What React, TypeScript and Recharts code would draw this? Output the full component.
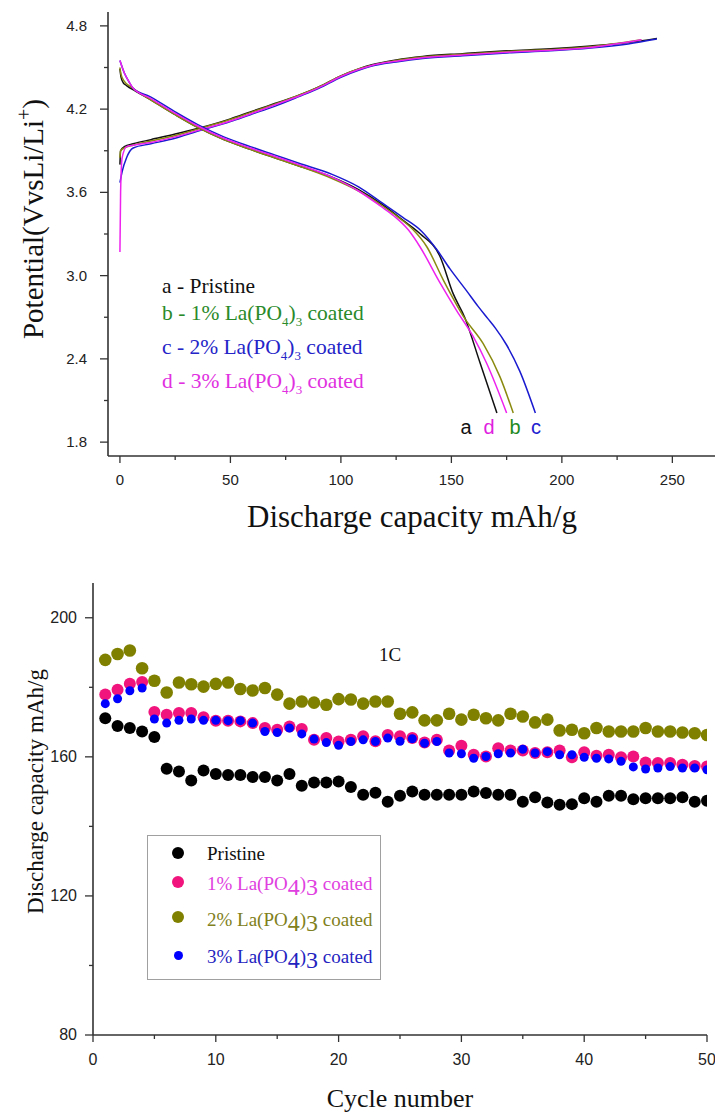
import React from 'react';
import { LineChart, Line, XAxis, YAxis, ScatterChart, Scatter } from 'recharts';

const SERIF = '"Liberation Serif", "Times New Roman", serif';
const SANS = '"Liberation Sans", Arial, sans-serif';
const AXIS = '#333';

// top panel: [capacity mAh/g, potential V]
const chargeA = [[0, 3.8], [0.3, 3.9], [2, 3.93], [6, 3.95], [14, 3.98], [25, 4.02], [35, 4.06], [50, 4.13], [59, 4.18], [70, 4.24], [81, 4.3], [90, 4.36], [100, 4.44], [108, 4.49], [114, 4.52], [125, 4.555], [137, 4.58], [155, 4.6], [175, 4.62], [195, 4.635], [213, 4.655], [230, 4.68], [243, 4.71]];
const chargeB = [[0, 3.85], [0.3, 3.9], [2, 3.92], [6, 3.94], [14, 3.97], [25, 4.01], [35, 4.055], [50, 4.125], [59, 4.175], [70, 4.235], [81, 4.3], [90, 4.36], [100, 4.44], [108, 4.49], [114, 4.515], [125, 4.55], [137, 4.575], [155, 4.595], [175, 4.615], [195, 4.63], [213, 4.65], [236, 4.7]];
const chargeC = [[0, 3.67], [1, 3.75], [3, 3.85], [6, 3.92], [14, 3.95], [25, 3.99], [35, 4.04], [50, 4.11], [59, 4.16], [70, 4.22], [81, 4.29], [90, 4.35], [100, 4.43], [108, 4.48], [114, 4.51], [125, 4.54], [137, 4.565], [155, 4.585], [175, 4.605], [195, 4.62], [213, 4.64], [230, 4.67], [243, 4.705]];
const chargeD = [[0, 3.17], [0.3, 3.6], [1, 3.85], [3, 3.93], [6, 3.94], [14, 3.96], [25, 4.0], [35, 4.045], [50, 4.115], [59, 4.165], [70, 4.23], [81, 4.295], [90, 4.355], [100, 4.435], [108, 4.485], [114, 4.515], [125, 4.545], [137, 4.57], [155, 4.59], [175, 4.61], [195, 4.625], [213, 4.645], [236, 4.7]];

const dischargeA = [[0, 4.49], [0.5, 4.43], [1.5, 4.39], [3, 4.37], [7, 4.33], [13.6, 4.27], [25, 4.16], [35, 4.07], [47, 3.98], [59, 3.91], [70, 3.85], [81, 3.79], [96, 3.71], [108, 3.62], [119, 3.51], [128, 3.4], [136, 3.3], [144.8, 3.14], [150.8, 2.87], [156, 2.7], [163, 2.37], [170.6, 2.01]];
const dischargeB = [[0, 4.5], [0.5, 4.45], [2, 4.4], [5, 4.36], [13.6, 4.27], [25, 4.16], [35, 4.07], [47, 3.98], [59, 3.91], [70, 3.85], [81, 3.79], [96, 3.7], [108, 3.61], [119, 3.5], [126, 3.42], [132.7, 3.33], [138.8, 3.21], [146.3, 2.97], [156.1, 2.69], [164.4, 2.51], [172, 2.27], [178, 2.01]];
const dischargeC = [[0, 4.55], [2, 4.46], [4, 4.4], [6, 4.35], [13.6, 4.29], [25, 4.18], [35, 4.09], [47, 4.0], [59, 3.93], [70, 3.87], [81, 3.81], [96, 3.73], [108, 3.64], [119, 3.52], [128, 3.42], [136.5, 3.32], [143.3, 3.19], [149.3, 3.05], [156.9, 2.89], [162, 2.78], [166.5, 2.69], [170, 2.62], [175, 2.5], [181, 2.31], [188, 2.01]];
const dischargeD = [[0, 4.55], [2, 4.46], [4, 4.4], [6, 4.35], [13.6, 4.28], [25, 4.17], [35, 4.08], [47, 3.99], [59, 3.92], [70, 3.86], [81, 3.8], [96, 3.71], [108, 3.61], [118, 3.5], [124, 3.43], [130.5, 3.33], [135.7, 3.21], [144.8, 2.95], [152.3, 2.75], [159.9, 2.56], [165.9, 2.37], [175, 2.01]];

const capTicks = [0, 25, 50, 75, 100, 125, 150, 175, 200, 225, 250];
const capLabels = [0, 50, 100, 150, 200, 250];
const potTicks = [1.8, 2.1, 2.4, 2.7, 3.0, 3.3, 3.6, 3.9, 4.2, 4.5, 4.8];
const potLabels = [1.8, 2.4, 3.0, 3.6, 4.2, 4.8];

// bottom panel: discharge capacity per cycle
const cycles = [1, 2, 3, 4, 5, 6, 7, 8, 9, 10, 11, 12, 13, 14, 15, 16, 17, 18, 19, 20, 21, 22, 23, 24, 25, 26, 27, 28, 29, 30, 31, 32, 33, 34, 35, 36, 37, 38, 39, 40, 41, 42, 43, 44, 45, 46, 47, 48, 49, 50];
const pristine = [171.1, 168.9, 168.3, 167.3, 165.7, 156.6, 155.8, 153.2, 156.1, 155.1, 154.8, 154.8, 154.2, 154.2, 153.2, 155.1, 151.7, 152.6, 152.6, 152.9, 151.3, 149.1, 149.7, 147.1, 148.8, 150.0, 149.1, 149.1, 149.1, 149.1, 150.0, 149.6, 149.1, 149.1, 147.1, 148.4, 146.9, 146.2, 146.4, 148.1, 147.1, 148.8, 148.8, 147.8, 148.1, 148.1, 148.1, 148.4, 147.1, 147.4];
const coated1 = [177.9, 179.3, 181.0, 181.5, 172.9, 172.1, 172.6, 172.6, 171.4, 170.4, 170.4, 170.2, 169.7, 168.3, 167.8, 168.7, 168.0, 164.9, 165.4, 164.4, 164.9, 165.9, 164.5, 166.3, 165.9, 165.4, 164.1, 164.9, 161.8, 163.2, 160.6, 160.1, 162.5, 161.8, 161.8, 161.1, 161.3, 161.8, 159.9, 161.3, 160.3, 160.6, 159.9, 160.1, 158.4, 158.2, 158.2, 157.7, 157.4, 157.2];
const coated2 = [187.9, 189.6, 190.6, 185.5, 181.9, 178.5, 181.4, 180.9, 180.2, 181.0, 181.4, 179.5, 179.1, 179.8, 177.9, 175.3, 175.9, 175.6, 175.0, 176.6, 176.5, 175.3, 175.9, 175.9, 172.4, 172.8, 170.5, 170.5, 172.4, 170.7, 172.1, 171.1, 170.5, 172.4, 171.6, 169.9, 170.7, 167.6, 167.8, 166.8, 168.3, 167.3, 167.3, 167.3, 168.3, 167.3, 167.3, 167.0, 166.8, 166.3];
const coated3 = [175.3, 176.7, 179.0, 179.8, 170.9, 169.7, 170.5, 170.9, 170.5, 170.5, 170.4, 170.4, 169.7, 167.3, 167.0, 168.3, 166.6, 165.1, 164.1, 163.3, 164.4, 164.9, 164.4, 165.4, 164.5, 165.2, 163.9, 164.4, 161.1, 160.9, 159.6, 160.1, 160.9, 161.1, 162.2, 161.1, 161.5, 160.6, 160.6, 159.9, 159.6, 159.4, 158.7, 157.1, 156.5, 156.8, 157.2, 156.8, 156.8, 156.3];

const cycleTicks = [0, 5, 10, 15, 20, 25, 30, 35, 40, 45, 50];
const cycleLabels = [0, 10, 20, 30, 40, 50];
const capacityTicks = [80, 100, 120, 140, 160, 180, 200];
const capacityLabels = [80, 120, 160, 200];

const toPts = (arr: number[][]) => arr.map(([c, v]) => ({ c, v }));
const toCycle = (vals: number[]) => vals.map((v, i) => ({ c: cycles[i], v }));
const isMajor = (labels: number[], v: number) => labels.some((l) => Math.abs(l - v) < 1e-6);

const profiles = [
  { key: 'a-ch', data: chargeA, color: '#111111' },
  { key: 'b-ch', data: chargeB, color: '#8a8a10' },
  { key: 'c-ch', data: chargeC, color: '#1a1ad0' },
  { key: 'd-ch', data: chargeD, color: '#ee22ee' },
  { key: 'a-dis', data: dischargeA, color: '#111111' },
  { key: 'b-dis', data: dischargeB, color: '#8a8a10' },
  { key: 'c-dis', data: dischargeC, color: '#1a1ad0' },
  { key: 'd-dis', data: dischargeD, color: '#ee22ee' },
];

const BottomTick = ({ x, y, payload, labels, fontSize, fmt, dy }: any) => {
  const major = isMajor(labels, payload.value);
  return (
    <g>
      <line x1={x} y1={y} x2={x} y2={y + (major ? 7 : 4)} stroke={AXIS} strokeWidth={1.3} />
      {major && (
        <text x={x} y={y + dy} textAnchor="middle" fontFamily={SANS} fontSize={fontSize} fill="#222">
          {fmt(payload.value)}
        </text>
      )}
    </g>
  );
};

const LeftTick = ({ x, y, payload, labels, fontSize, fmt, gap }: any) => {
  const major = isMajor(labels, payload.value);
  return (
    <g>
      <line x1={x - (major ? 8 : 4)} y1={y} x2={x} y2={y} stroke={AXIS} strokeWidth={1.3} />
      {major && (
        <text x={x - gap} y={y + 5} textAnchor="end" fontFamily={SANS} fontSize={fontSize} fill="#222">
          {fmt(payload.value)}
        </text>
      )}
    </g>
  );
};

const dot = (r: number, fill: string) => (p: any) => <circle cx={p.cx} cy={p.cy} r={r} fill={fill} />;

const abs = (left: number, top: number, extra: React.CSSProperties = {}): React.CSSProperties => ({
  position: 'absolute',
  left,
  top,
  whiteSpace: 'nowrap',
  ...extra,
});

const Sub = ({ children, size, shift }: any) => (
  <span style={{ fontSize: size, position: 'relative', top: shift }}>{children}</span>
);

const topLegend = [
  { pre: 'a - Pristine', coated: false, color: '#111111', base: 294 },
  { pre: 'b - 1% La(PO', coated: true, color: '#2a8a2a', base: 321 },
  { pre: 'c - 2% La(PO', coated: true, color: '#2424c8', base: 355 },
  { pre: 'd - 3% La(PO', coated: true, color: '#e030e0', base: 389 },
];

const curveTags = [
  { t: 'a', x: 466, color: '#111111' },
  { t: 'd', x: 489, color: '#e020e0' },
  { t: 'b', x: 515, color: '#1f8a1f' },
  { t: 'c', x: 536, color: '#2020d0' },
];

const bottomLegend = [
  { pre: 'Pristine', coated: false, text: '#111111', marker: '#000000', r: 6, base: 860, my: 853 },
  { pre: '1% La(PO', coated: true, text: '#e040e0', marker: '#f0147c', r: 6, base: 889, my: 882 },
  { pre: '2% La(PO', coated: true, text: '#808020', marker: '#808000', r: 6, base: 925, my: 917 },
  { pre: '3% La(PO', coated: true, text: '#2323c0', marker: '#0000ff', r: 4.5, base: 962, my: 955 },
];

export default function App() {
  return (
    <div style={{ position: 'absolute', left: 0, top: 0, width: 715, height: 1113, background: '#fff', overflow: 'hidden' }}>
      <div style={abs(0, 0)}>
        <LineChart width={715} height={500} margin={{ top: 12, right: 0, left: 48, bottom: 14 }}>
          <XAxis
            type="number"
            dataKey="c"
            domain={[-5.4, 269.3]}
            ticks={capTicks}
            interval={0}
            allowDataOverflow
            height={30}
            tickSize={0}
            tickMargin={0}
            tickLine={false}
            axisLine={{ stroke: AXIS, strokeWidth: 1.6 }}
            tick={(p: any) => <BottomTick {...p} labels={capLabels} fontSize={15} dy={29} fmt={(v: number) => String(v)} />}
          />
          <XAxis xAxisId="top" type="number" dataKey="c" domain={[-5.4, 269.3]} orientation="top" height={0} tick={false} tickLine={false} axisLine={{ stroke: AXIS, strokeWidth: 1.6 }} />
          <YAxis
            type="number"
            dataKey="v"
            domain={[1.7, 4.9]}
            ticks={potTicks}
            interval={0}
            allowDataOverflow
            width={60}
            tickSize={0}
            tickMargin={0}
            tickLine={false}
            axisLine={{ stroke: AXIS, strokeWidth: 1.6 }}
            tick={(p: any) => <LeftTick {...p} labels={potLabels} fontSize={15} gap={21} fmt={(v: number) => v.toFixed(1)} />}
          />
          {profiles.map((s) => (
            <Line
              key={s.key}
              data={toPts(s.data)}
              dataKey="v"
              type="monotone"
              stroke={s.color}
              strokeWidth={1.5}
              dot={false}
              activeDot={false}
              isAnimationActive={false}
            />
          ))}
        </LineChart>
      </div>

      <div style={abs(-215, 217 - 14.5, { width: 500, textAlign: 'center', fontFamily: SERIF, fontSize: 29, lineHeight: '29px', transform: 'rotate(-90deg)', color: '#111' })}>
        Potential(VvsLi/Li<Sub size={20} shift={-12}>+</Sub>)
      </div>
      <div style={abs(162, 516 - 15.5, { width: 500, textAlign: 'center', fontFamily: SERIF, fontSize: 31, lineHeight: '31px', color: '#111' })}>
        Discharge capacity mAh/g
      </div>

      {topLegend.map((row) => (
        <div key={row.pre} style={abs(162, row.base - 18, { fontFamily: SERIF, fontSize: 21.5, lineHeight: '21.5px', color: row.color })}>
          {row.pre}
          {row.coated && (
            <>
              <Sub size={13} shift={6}>4</Sub>)<Sub size={13} shift={6}>3</Sub> coated
            </>
          )}
        </div>
      ))}
      {curveTags.map((t) => (
        <div key={t.t} style={abs(t.x - 10, 434 - 16.9, { width: 20, textAlign: 'center', fontFamily: SANS, fontSize: 20, lineHeight: '20px', color: t.color })}>
          {t.t}
        </div>
      ))}

      <div style={abs(0, 560)}>
        <ScatterChart width={715} height={553} margin={{ top: 23, right: 8, left: 33, bottom: 18 }}>
          <XAxis
            type="number"
            dataKey="c"
            domain={[0, 50]}
            ticks={cycleTicks}
            interval={0}
            allowDataOverflow
            height={60}
            tickSize={0}
            tickMargin={0}
            tickLine={false}
            axisLine={{ stroke: AXIS, strokeWidth: 1.6 }}
            tick={(p: any) => <BottomTick {...p} labels={cycleLabels} fontSize={16} dy={30} fmt={(v: number) => String(v)} />}
          />
          <XAxis xAxisId="top" type="number" dataKey="c" domain={[0, 50]} orientation="top" height={0} tick={false} tickLine={false} axisLine={{ stroke: AXIS, strokeWidth: 1.6 }} />
          <YAxis
            type="number"
            dataKey="v"
            domain={[80, 210]}
            ticks={capacityTicks}
            interval={0}
            allowDataOverflow
            width={60}
            tickSize={0}
            tickMargin={0}
            tickLine={false}
            axisLine={{ stroke: AXIS, strokeWidth: 1.6 }}
            tick={(p: any) => <LeftTick {...p} labels={capacityLabels} fontSize={16} gap={16} fmt={(v: number) => String(v)} />}
          />
          <YAxis yAxisId="right" type="number" dataKey="v" domain={[80, 210]} orientation="right" width={0} tick={false} tickLine={false} axisLine={{ stroke: AXIS, strokeWidth: 1.6 }} />
          <Scatter data={toCycle(pristine)} shape={dot(6, '#000000')} isAnimationActive={false} />
          <Scatter data={toCycle(coated2)} shape={dot(6.3, '#808000')} isAnimationActive={false} />
          <Scatter data={toCycle(coated1)} shape={dot(6, '#f0147c')} isAnimationActive={false} />
          <Scatter data={toCycle(coated3)} shape={dot(4.5, '#0000ff')} isAnimationActive={false} />
        </ScatterChart>
      </div>

      <div style={abs(-215, 791 - 11.5, { width: 500, textAlign: 'center', fontFamily: SERIF, fontSize: 23, lineHeight: '23px', transform: 'rotate(-90deg)', color: '#111' })}>
        Discharge capacity mAh/g
      </div>
      <div style={abs(150, 1099 - 13, { width: 500, textAlign: 'center', fontFamily: SERIF, fontSize: 26, lineHeight: '26px', color: '#111' })}>
        Cycle number
      </div>
      <div style={abs(370, 660.7 - 15.9, { width: 40, textAlign: 'center', fontFamily: SERIF, fontSize: 19, lineHeight: '19px', color: '#111' })}>
        1C
      </div>

      <div style={abs(147, 835, { width: 232, height: 143, border: '1px solid #a0a0a0', background: '#fff' })} />
      {bottomLegend.map((row) => (
        <React.Fragment key={row.pre}>
          <div style={abs(178 - row.r, row.my - row.r, { width: row.r * 2, height: row.r * 2, borderRadius: '50%', background: row.marker })} />
          <div style={abs(207, row.base - 15.9, { fontFamily: SERIF, fontSize: 19, lineHeight: '19px', color: row.text })}>
            {row.pre}
            {row.coated && (
              <>
                <Sub size={24} shift={5}>4</Sub>)<Sub size={24} shift={5}>3</Sub> coated
              </>
            )}
          </div>
        </React.Fragment>
      ))}
    </div>
  );
}
